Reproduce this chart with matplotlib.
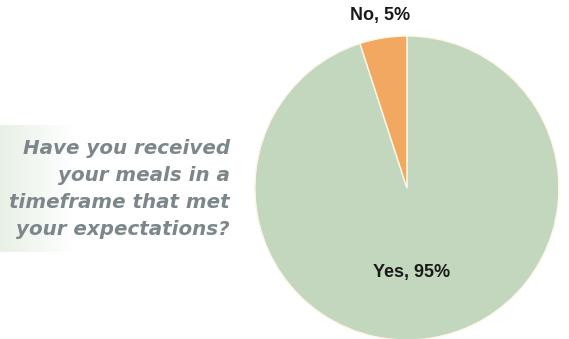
import numpy as np
import matplotlib.pyplot as plt

# survey answers
answers = ["Yes", "No"]
shares = [95, 5]
colors = ["#c3d6be", "#f3a862"]
question = "Have you received\nyour meals in a\ntimeframe that met\nyour expectations?"

fig = plt.figure(figsize=(5.69, 3.39), dpi=100)
fig.patch.set_facecolor("white")

# faint green panel fading out behind the question
bg = fig.add_axes([0, 1 - 252 / 339, 75 / 569, 127 / 339])
fade = np.linspace(1, 0, 100)[None, :, None]
panel = np.ones((1, 100, 4))
panel[..., :3] = [0.82, 0.89, 0.80]
panel[..., 3:] = 0.5 * fade
bg.imshow(panel, aspect="auto", extent=[0, 1, 0, 1])
bg.axis("off")

# pie axes on the right
ax = fig.add_axes([0.448, -0.003, 304 / 569, 304 / 339])
wedges, _ = ax.pie(shares, colors=colors, startangle=90, counterclock=False,
                   radius=1.0, wedgeprops=dict(edgecolor="#fdf8e6", linewidth=1.0))
ax.set_xlim(-1, 1)
ax.set_ylim(-1, 1)
ax.set_aspect("equal")
ax.axis("off")

# labels: small slice outside, big slice inside
dists = [0.56, 1.15]
shifts = [-0.055, 0.0]
for w, name, val, d, dx in zip(wedges, answers, shares, dists, shifts):
    mid = np.deg2rad((w.theta1 + w.theta2) / 2)
    ax.text(d * np.cos(mid) + dx, d * np.sin(mid), f"{name}, {val}%",
            ha="center", va="center", fontsize=13, fontweight="bold",
            family="Liberation Sans", color="#1a1a1a", clip_on=False)

# question text on the left
fig.text(230 / 569, 1 - 189 / 339, question, ha="right", va="center",
         fontsize=14.3, fontweight="bold", fontstyle="italic",
         family="DejaVu Sans", color="#7d878b", linespacing=1.55)

fig.savefig("out.png", dpi=100)
